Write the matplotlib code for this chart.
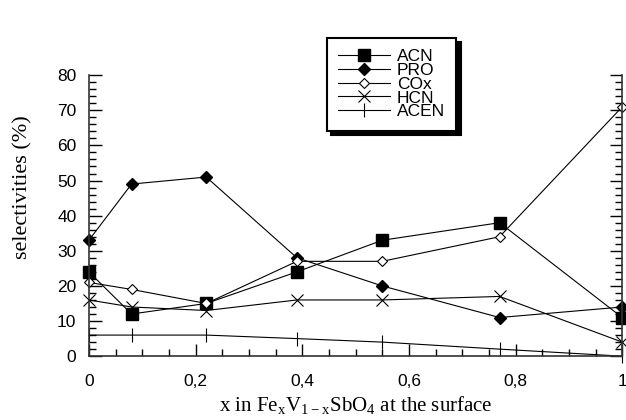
import matplotlib.pyplot as plt
from matplotlib.ticker import MultipleLocator, FuncFormatter

x = [0, 0.08, 0.22, 0.39, 0.55, 0.77, 1.0]
acn = [24, 12, 15, 24, 33, 38, 11]
pro = [33, 49, 51, 28, 20, 11, 14]
cox = [21, 19, 15, 27, 27, 34, 71]
hcn = [16, 14, 13, 16, 16, 17, 4]
acen = [6, 6, 6, 5, 4, 2, 0]

fig = plt.figure(figsize=(6.26, 4.2), dpi=100)
ax = fig.add_axes([0.142, 0.152, 0.852, 0.669])

lw = 0.8
ax.plot(x, acn, color="black", lw=lw, marker="s", ms=8, label="ACN", clip_on=False)
ax.plot(x, pro, color="black", lw=lw, marker="D", ms=6, label="PRO", clip_on=False)
ax.plot(x, cox, color="black", lw=lw, marker="D", ms=5, mfc="white", mew=0.8,
        label="COx", clip_on=False)
ax.plot(x, hcn, color="black", lw=lw, marker="x", ms=9, mew=0.8, label="HCN", clip_on=False)
ax.plot(x, acen, color="black", lw=lw, marker="|", ms=10, mew=0.8, label="ACEN", clip_on=False)

ax.set_xlim(0, 1)
ax.set_ylim(0, 80)
ax.spines["top"].set_visible(False)
for s in ["left", "right", "bottom"]:
    ax.spines[s].set_linewidth(1.2)
    ax.spines[s].set_color("#333333")

ax.xaxis.set_major_locator(MultipleLocator(0.2))
ax.xaxis.set_minor_locator(MultipleLocator(0.05))
ax.yaxis.set_major_locator(MultipleLocator(10))
ax.yaxis.set_minor_locator(MultipleLocator(2))
ax.xaxis.set_major_formatter(FuncFormatter(lambda v, p: ("%g" % round(v, 2)).replace(".", ",")))
ax.tick_params(which="both", direction="in", right=True, top=False, labelsize=12.5)
ax.tick_params(which="major", length=9, width=1)
ax.tick_params(which="minor", length=5, width=1)
ax.tick_params(axis="x", pad=13)
ax.tick_params(axis="y", pad=9)
for lab in ax.get_xticklabels() + ax.get_yticklabels():
    lab.set_family("Liberation Sans")

ax.set_xlabel(r"x in Fe$_\mathregular{x}$V$_\mathregular{1-x}$SbO$_\mathregular{4}$ at the surface",
              family="Liberation Serif", fontsize=15, labelpad=4)
ax.set_ylabel("selectivities (%)", family="Liberation Serif", fontsize=16)
ax.yaxis.set_label_coords(-0.105, 0.6)

leg = ax.legend(loc="upper left", bbox_to_anchor=(0.522, 0.91), bbox_transform=fig.transFigure,
                prop={"family": "Liberation Sans", "size": 12.5}, fancybox=False,
                shadow={"color": "black", "alpha": 1, "ox": 3, "oy": -3}, framealpha=1,
                edgecolor="black", handlelength=3.0, handletextpad=0.4,
                labelspacing=-0.08, borderpad=0.65, borderaxespad=0)
leg.get_frame().set_linewidth(1.5)

fig.savefig("out.png", dpi=100)
